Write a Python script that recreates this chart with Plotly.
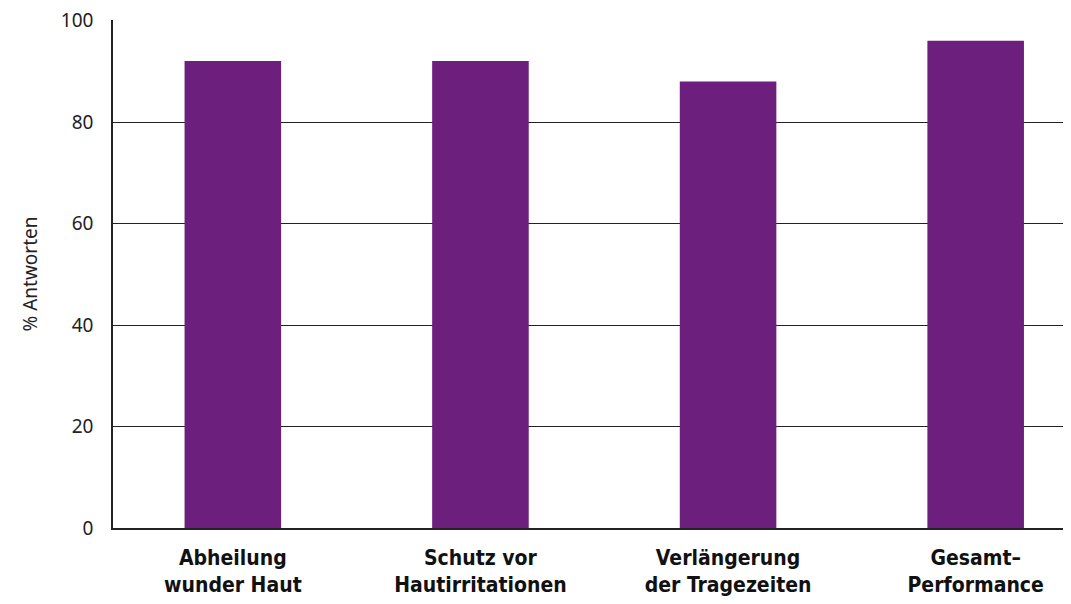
import plotly.graph_objects as go

categories = ["Abheilung<br>wunder Haut", "Schutz vor<br>Hautirritationen",
              "Verlängerung<br>der Tragezeiten", "Gesamt–<br>Performance"]
values = [92, 92, 88, 96]
y_ticks = [0, 20, 40, 60, 80, 100]

bar_color = "#6C1F7D"

fig = go.Figure(go.Bar(
    x=list(range(len(categories))), y=values,
    marker=dict(color=bar_color, line=dict(width=0)),
    width=0.39,
))

fig.update_layout(
    width=1063, height=596,
    margin=dict(l=105, r=0, t=12, b=76),
    plot_bgcolor="white", paper_bgcolor="white",
    showlegend=False,
    font=dict(family="Noto Sans, DejaVu Sans, sans-serif", color="#111111"),
)
fig.update_xaxes(
    range=[-0.484, 3.385], automargin=False,
    tickmode="array", tickvals=list(range(len(categories))), ticktext=[f"<b>{c}</b>" for c in categories],
    tickfont=dict(size=21, family="DejaVu Sans Condensed, Liberation Sans Narrow, sans-serif", color="#111111"),
    showline=True, linecolor="#222222", linewidth=1.5,
    showgrid=False, zeroline=False, ticks="", ticklabelstandoff=10,
)
fig.update_yaxes(
    range=[0, 100.1], tickvals=y_ticks, automargin=False,
    tickfont=dict(size=19, color="#222222"), ticklabeloverflow="allow",
    showline=True, linecolor="#222222", linewidth=1.5,
    showgrid=True, gridcolor="#222222", gridwidth=1.2,
    zeroline=False, ticks="", ticklabelstandoff=14,
    title=dict(text="% Antworten", font=dict(size=19, color="#222222"), standoff=18),
)

fig.write_html("out.html")
